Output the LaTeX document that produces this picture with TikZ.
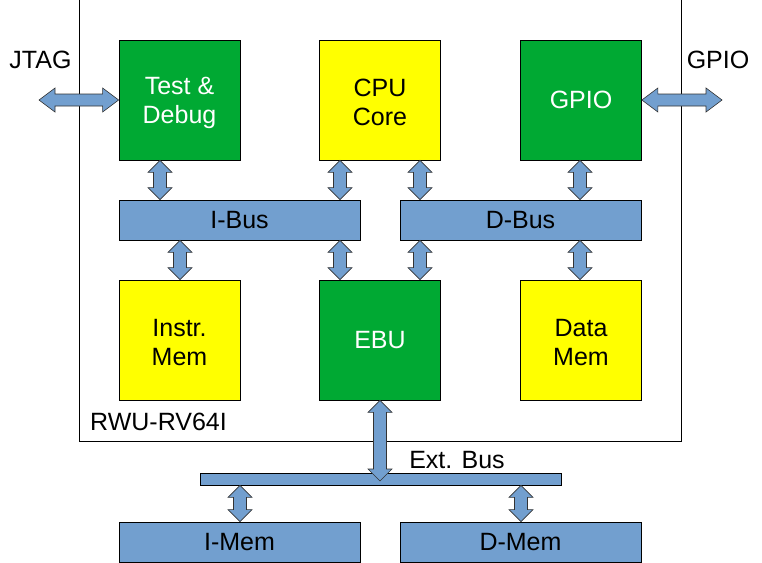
\documentclass[tikz,border=0pt]{standalone}
\usepackage{fontspec}
\setmainfont{Liberation Sans}
\usetikzlibrary{calc}
\definecolor{lgreen}{HTML}{00A933}
\definecolor{lyellow}{HTML}{FFFF00}
\definecolor{lblue}{HTML}{729FCF}
\tikzset{
  blk/.style={draw=black, line width=0.8pt, minimum width=121pt, minimum height=120pt, inner sep=0pt, align=center, font=\fontsize{25}{29}\selectfont},
  grn/.style={blk, fill=lgreen, text=white},
  yel/.style={blk, fill=lyellow, text=black},
  busbox/.style={draw=black, line width=0.8pt, fill=lblue, minimum width=241pt, minimum height=40pt, inner sep=0pt, font=\fontsize{25}{29}\selectfont},
  fat/.style={draw=black!80, line width=0.6pt, fill=lblue, line join=miter},
  lbl/.style={font=\fontsize{25}{29}\selectfont, inner sep=0pt}
}
\newcommand\twoline[2]{\raisebox{-2.5pt}[\height][\depth]{\parbox{110pt}{\centering #1\\#2}}}
% vertical double arrow at x=#1 between points #2 (top) and #3 (bottom)
\newcommand\varrow[3]{%
  \path[fat] let \p1=(#2), \p2=(#3) in
   (#1pt,\y1) -- (#1pt+12pt,\y1-12pt) -- (#1pt+6.5pt,\y1-12pt) -- (#1pt+6.5pt,\y2+12pt)
   -- (#1pt+12pt,\y2+12pt) -- (#1pt,\y2) -- (#1pt-12pt,\y2+12pt) -- (#1pt-6.5pt,\y2+12pt)
   -- (#1pt-6.5pt,\y1-12pt) -- (#1pt-12pt,\y1-12pt) -- cycle;}
% horizontal double arrow between #1 (left) and #2 (right)
\newcommand\harrow[2]{%
  \path[fat] let \p1=(#1), \p2=(#2) in
   (\x1,\y1) -- (\x1+16pt,\y1+12pt) -- (\x1+16pt,\y1+6pt) -- (\x2-16pt,\y1+6pt)
   -- (\x2-16pt,\y1+12pt) -- (\x2,\y1) -- (\x2-16pt,\y1-12pt) -- (\x2-16pt,\y1-6pt)
   -- (\x1+16pt,\y1-6pt) -- (\x1+16pt,\y1-12pt) -- cycle;}
\begin{document}
\begin{tikzpicture}[x=1pt,y=-1pt]
\useasboundingbox (0,0) rectangle (762,562);
% outer chip frame
\draw[black, line width=0.8pt] (79,-5) rectangle (681,441);

% top row
\node[grn] (td) at (179.5,100) {\twoline{Test \&}{Debug}};
\node[yel] (cpu) at (380,100) {\twoline{CPU}{Core}};
\node[grn] (gpio) at (581,100) {GPIO};
% buses
\node[busbox] (ibus) at (239.5,220) {I-Bus};
\node[busbox] (dbus) at (520.5,220) {D-Bus};
% bottom row
\node[yel] (imem) at (179.5,340) {\twoline{Instr.}{Mem}};
\node[grn] (ebu) at (380,340) {EBU};
\node[yel] (dmem) at (581,340) {\twoline{Data}{Mem}};
% external
\node[draw=black, line width=0.8pt, fill=lblue, minimum width=361pt, minimum height=12pt, inner sep=0pt] (ext) at (380.5,479) {};
\node[busbox] (im) at (239.5,542) {I-Mem};
\node[busbox] (dm) at (520.5,542) {D-Mem};

% labels
\coordinate (jl) at (39,100);
\coordinate (gr) at (722,100);
\coordinate (extt) at (380,481);
\node[lbl, anchor=base] (jtag) at (40.5,68) {JTAG};
\node[lbl, anchor=base] (gpiol) at (718,68) {GPIO};
\node[lbl, anchor=base west] (chip) at (90,430) {RWU-RV64I};
\node[lbl, anchor=base] (extl) at (457,468) {Ext. Bus};

% arrows
\harrow{jl}{td.west}
\harrow{gpio.east}{gr}
\varrow{160}{td.south}{ibus.north}
\varrow{340}{cpu.south}{ibus.north}
\varrow{420}{cpu.south}{dbus.north}
\varrow{580}{gpio.south}{dbus.north}
\varrow{180}{ibus.south}{imem.north}
\varrow{340}{ibus.south}{ebu.north}
\varrow{420}{dbus.south}{ebu.north}
\varrow{580}{dbus.south}{dmem.north}
\varrow{380}{ebu.south}{extt}
\varrow{240}{ext.south}{im.north}
\varrow{521}{ext.south}{dm.north}
\end{tikzpicture}
\end{document}
